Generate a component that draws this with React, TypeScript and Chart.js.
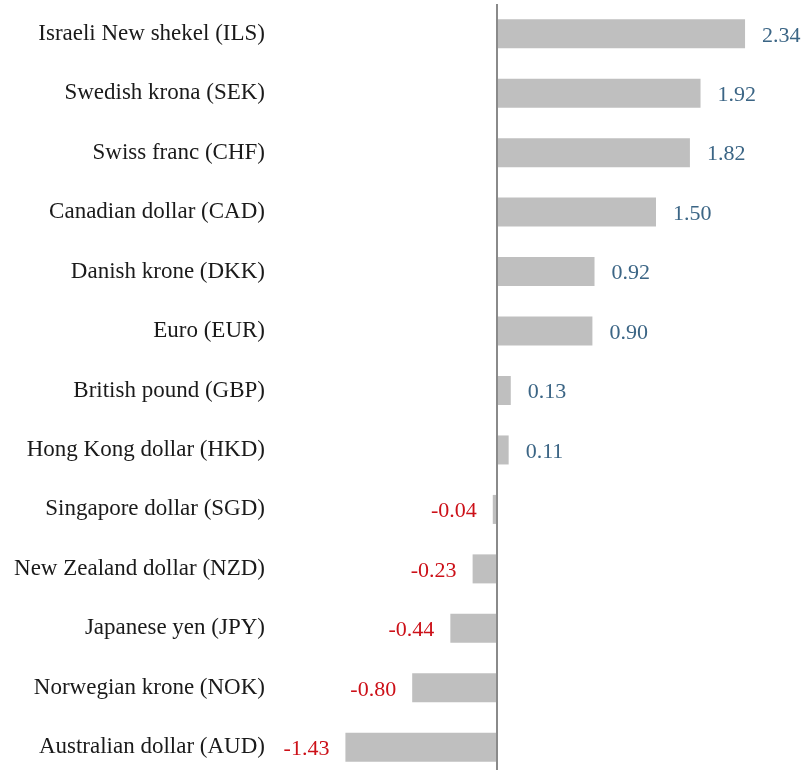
import React, { useEffect, useRef } from "react";
import { Chart, registerables } from "chart.js";

Chart.register(...registerables);

const categories = [
  "Israeli New shekel (ILS)",
  "Swedish krona (SEK)",
  "Swiss franc (CHF)",
  "Canadian dollar (CAD)",
  "Danish krone (DKK)",
  "Euro (EUR)",
  "British pound (GBP)",
  "Hong Kong dollar (HKD)",
  "Singapore dollar (SGD)",
  "New Zealand dollar (NZD)",
  "Japanese yen (JPY)",
  "Norwegian krone (NOK)",
  "Australian dollar (AUD)",
];

const values = [2.34, 1.92, 1.82, 1.5, 0.92, 0.9, 0.13, 0.11, -0.04, -0.23, -0.44, -0.8, -1.43];

const FONT = "'Liberation Serif', 'Times New Roman', serif";

const zeroLinePlugin = {
  id: "zeroLine",
  afterDatasetsDraw(chart: any) {
    const { ctx, chartArea, scales } = chart;
    const x0 = Math.round(scales.x.getPixelForValue(0));
    ctx.save();
    ctx.strokeStyle = "#8a8a8a";
    ctx.lineWidth = 2;
    ctx.beginPath();
    ctx.moveTo(x0, chartArea.top);
    ctx.lineTo(x0, chartArea.bottom);
    ctx.stroke();
    ctx.restore();
  },
};

const valueLabelPlugin = {
  id: "valueLabels",
  afterDatasetsDraw(chart: any) {
    const { ctx } = chart;
    const meta = chart.getDatasetMeta(0);
    ctx.save();
    ctx.font = `22px ${FONT}`;
    ctx.textBaseline = "middle";
    meta.data.forEach((bar: any, i: number) => {
      const v = values[i];
      const txt = v.toFixed(2);
      if (v >= 0) {
        ctx.fillStyle = "#3b6585";
        ctx.textAlign = "left";
        ctx.fillText(txt, bar.x + 17, bar.y + 2);
      } else {
        ctx.fillStyle = "#cc1018";
        ctx.textAlign = "right";
        ctx.fillText(txt, bar.x - 16, bar.y + 2);
      }
    });
    ctx.restore();
  },
};

export default function App() {
  const ref = useRef<HTMLCanvasElement>(null);
  useEffect(() => {
    document.body.style.margin = "0";
    const chart = new Chart(ref.current!, {
      type: "bar",
      data: {
        labels: categories,
        datasets: [
          {
            data: values,
            backgroundColor: "#bfbfbf",
            borderWidth: 0,
            categoryPercentage: 1,
            barPercentage: 0.488,
          },
        ],
      },
      options: {
        indexAxis: "y",
        animation: false,
        responsive: false,
        layout: { padding: { top: 4, right: 0, bottom: 0, left: 0 } },
        plugins: { legend: { display: false }, tooltip: { enabled: false } },
        scales: {
          x: {
            display: false,
            min: -2.047,
            max: 2.915,
          },
          y: {
            grid: { display: false, drawTicks: false },
            border: { display: false },
            ticks: {
              padding: 15,
              color: "#1a1a1a",
              font: { family: FONT, size: 23 },
            },
            afterFit(scale: any) {
              scale.width = 280;
              scale.paddingTop = 0;
              scale.paddingBottom = 0;
            },
          },
        },
      },
      plugins: [zeroLinePlugin, valueLabelPlugin],
    });
    return () => chart.destroy();
  }, []);
  return (
    <div style={{ width: 806, height: 770, overflow: "hidden" }}>
      <canvas ref={ref} width={806} height={777} style={{ display: "block" }} />
    </div>
  );
}
